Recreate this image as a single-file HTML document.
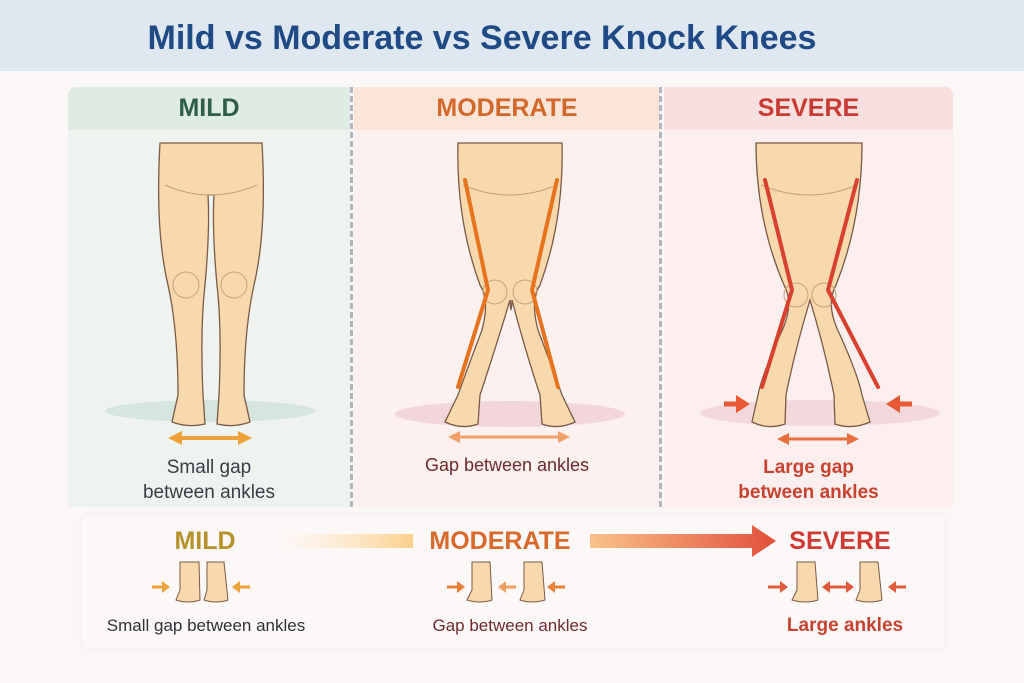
<!DOCTYPE html>
<html><head><meta charset="utf-8"><style>
body{margin:0;width:1024px;height:683px;background:#faf7f6;font-family:"Liberation Sans",sans-serif;overflow:hidden;position:relative}
.t{position:absolute;text-align:center;white-space:nowrap}
</style></head><body>
<div style="position:absolute;left:0;top:0;width:1024px;height:71px;background:#dfe7f1"></div>
<div class="t" style="left:0;width:964px;top:19px;font-size:34px;font-weight:bold;color:#1f4a86">Mild vs Moderate vs Severe Knock Knees</div>

<div style="position:absolute;left:68px;top:87px;width:282px;height:420px;background:#eef3ef;border-radius:8px 0 0 0"></div>
<div style="position:absolute;left:68px;top:87px;width:282px;height:43px;background:#dfece3;border-radius:8px 0 0 0"></div>
<div style="position:absolute;left:354px;top:87px;width:306px;height:420px;background:#fcf1ef"></div>
<div style="position:absolute;left:354px;top:87px;width:306px;height:43px;background:#fbe5d8"></div>
<div style="position:absolute;left:664px;top:87px;width:289px;height:420px;background:#fcefee;border-radius:0 8px 0 0"></div>
<div style="position:absolute;left:664px;top:87px;width:289px;height:43px;background:#f9e0e0;border-radius:0 8px 0 0"></div>
<div style="position:absolute;left:350px;top:87px;width:0;height:420px;border-left:3px dashed #b3b5bd"></div>
<div style="position:absolute;left:659px;top:87px;width:0;height:420px;border-left:3px dashed #b3b5bd"></div>

<div class="t" style="left:68px;width:282px;top:94px;font-size:25px;font-weight:bold;color:#2e5d48">MILD</div>
<div class="t" style="left:354px;width:306px;top:94px;font-size:25px;font-weight:bold;color:#d2692a">MODERATE</div>
<div class="t" style="left:664px;width:289px;top:94px;font-size:25px;font-weight:bold;color:#c83b32">SEVERE</div>

<svg style="position:absolute;left:0;top:0" width="1024" height="683">
<ellipse cx="210" cy="411" rx="105" ry="11" fill="#d6e5dd"/>
<ellipse cx="510" cy="414" rx="115" ry="13" fill="#f3d6da"/>
<ellipse cx="820" cy="413" rx="120" ry="13" fill="#f4d9dc"/>
<g stroke="#7a5a44" stroke-width="1.3" fill="#f8d9ae">
<path d="M160,143 L262,143 Q267,230 254,285 Q244,330 244,395 L250,422 Q234,428 217,424 L219,395 Q222,330 217,285 Q212,230 214,195 L208,195 Q210,230 205,285 Q200,330 203,395 L205,424 Q188,428 172,422 L178,395 Q178,330 168,285 Q155,230 160,143 Z"/>
<path d="M458,143 L562,143 Q564,220 540,285 Q530,300 538,330 Q555,375 562,395 L575,422 Q558,430 542,424 L540,395 Q525,350 512,300 Q511,320 510,300 Q495,350 480,395 L478,424 Q462,430 445,422 L458,395 Q465,375 482,330 Q490,300 480,285 Q456,220 458,143 Z"/>
<path d="M756,143 L862,143 Q862,220 836,285 Q825,305 840,335 Q858,375 862,395 L870,422 Q852,430 835,424 L834,395 Q825,350 810,300 Q795,350 786,395 L785,424 Q768,430 752,422 L758,395 Q762,375 780,335 Q795,305 784,285 Q756,220 756,143 Z"/>
</g>
<g fill="none" stroke="#c9a07a" stroke-width="1">
<path d="M165,185 Q210,205 257,185"/><path d="M463,185 Q510,205 557,185"/><path d="M761,185 Q810,205 857,185"/>
<circle cx="186" cy="285" r="13"/><circle cx="234" cy="285" r="13"/>
<circle cx="495" cy="292" r="12"/><circle cx="525" cy="292" r="12"/>
<circle cx="796" cy="295" r="12"/><circle cx="824" cy="295" r="12"/>
</g>
<g fill="none" stroke-linecap="round">
<path d="M465,180 L488,290 L458,387 M557,180 L532,290 L558,387" stroke="#e8731f" stroke-width="4"/>
<path d="M765,180 L792,290 L762,387 M857,180 L828,290 L878,387" stroke="#d9412f" stroke-width="4"/>
</g>
<g>
<line x1="178" y1="438" x2="242" y2="438" stroke="#f0a23a" stroke-width="4"/>
<path d="M168,438l14,-7v14z M252,438l-14,-7v14z" fill="#f0a23a"/>
<line x1="458" y1="437" x2="560" y2="437" stroke="#f1a06a" stroke-width="3"/>
<path d="M448,437l12,-6v12z M570,437l-12,-6v12z" fill="#f1a06a"/>
<line x1="788" y1="439" x2="848" y2="439" stroke="#e8703e" stroke-width="3"/>
<path d="M777,439l12,-6v12z M859,439l-12,-6v12z" fill="#e8703e"/>
<line x1="724" y1="404" x2="738" y2="404" stroke="#e85a35" stroke-width="5"/>
<path d="M750,404l-14,-9v18z" fill="#e85a35"/>
<line x1="912" y1="404" x2="898" y2="404" stroke="#e85a35" stroke-width="5"/>
<path d="M886,404l14,-9v18z" fill="#e85a35"/>
</g>
</svg>

<div class="t" style="left:68px;width:282px;top:455px;font-size:19px;line-height:25px;color:#3a3d45">Small gap<br>between ankles</div>
<div class="t" style="left:354px;width:306px;top:455px;font-size:18px;color:#6e2a2a">Gap between ankles</div>
<div class="t" style="left:664px;width:289px;top:455px;font-size:19px;line-height:25px;font-weight:bold;color:#c8432f">Large gap<br>between ankles</div>

<div style="position:absolute;left:82px;top:515px;width:862px;height:133px;background:#fdf8f8;border-radius:6px;box-shadow:0 0 4px #eee"></div>
<div class="t" style="left:140px;width:130px;top:527px;font-size:25px;font-weight:bold;color:#b5922a">MILD</div>
<div class="t" style="left:410px;width:180px;top:527px;font-size:25px;font-weight:bold;color:#d86a2c">MODERATE</div>
<div class="t" style="left:770px;width:140px;top:527px;font-size:25px;font-weight:bold;color:#cf3b33">SEVERE</div>
<svg style="position:absolute;left:0;top:0" width="1024" height="683">
<defs><linearGradient id="g1"><stop offset="0" stop-color="#fde9c8" stop-opacity="0"/><stop offset="1" stop-color="#fbd08a"/></linearGradient>
<linearGradient id="g2"><stop offset="0" stop-color="#f9c28a"/><stop offset="1" stop-color="#e2503a"/></linearGradient></defs>
<rect x="275" y="534" width="138" height="14" fill="url(#g1)"/>
<path d="M590,534 L752,534 L752,525 L776,541 L752,557 L752,548 L590,548Z" fill="url(#g2)"/>
<g stroke="#7a5a44" stroke-width="1" fill="#f8d9ae">
<path d="M180,562 L180,590 L176,600 Q188,604 200,600 L199,562Z"/><path d="M207,562 L207,590 L204,600 Q216,604 228,600 L224,562Z"/>
<path d="M472,562 L472,590 L467,600 Q480,604 492,600 L490,562Z"/><path d="M524,562 L524,590 L520,600 Q532,604 545,600 L542,562Z"/>
<path d="M797,562 L797,590 L792,600 Q805,604 818,600 L815,562Z"/><path d="M860,562 L860,590 L856,600 Q869,604 882,600 L878,562Z"/>
</g>
<g stroke-width="3">
<line x1="152" y1="587" x2="162" y2="587" stroke="#f0a23a"/><path d="M170,587l-8,-6v12z" fill="#f0a23a"/>
<line x1="250" y1="587" x2="240" y2="587" stroke="#f0a23a"/><path d="M232,587l8,-6v12z" fill="#f0a23a"/>
<line x1="447" y1="587" x2="457" y2="587" stroke="#e8803a"/><path d="M465,587l-8,-6v12z" fill="#e8803a"/>
<line x1="516" y1="587" x2="506" y2="587" stroke="#f0a060"/><path d="M498,587l8,-6v12z" fill="#f0a060"/>
<line x1="565" y1="587" x2="555" y2="587" stroke="#e8803a"/><path d="M547,587l8,-6v12z" fill="#e8803a"/>
<line x1="768" y1="587" x2="780" y2="587" stroke="#e05a3a"/><path d="M788,587l-8,-6v12z" fill="#e05a3a"/>
<line x1="830" y1="587" x2="846" y2="587" stroke="#e05a3a"/><path d="M822,587l8,-6v12z M854,587l-8,-6v12z" fill="#e05a3a"/>
<line x1="906" y1="587" x2="896" y2="587" stroke="#e05a3a"/><path d="M888,587l8,-6v12z" fill="#e05a3a"/>
</g>
</svg>

<div class="t" style="left:82px;width:248px;top:616px;font-size:17px;color:#2f3138">Small gap between ankles</div>
<div class="t" style="left:410px;width:200px;top:616px;font-size:17px;color:#6e2a2a">Gap between ankles</div>
<div class="t" style="left:770px;width:150px;top:615px;font-size:19px;font-weight:bold;color:#c8432f">Large ankles</div>
</body></html>
